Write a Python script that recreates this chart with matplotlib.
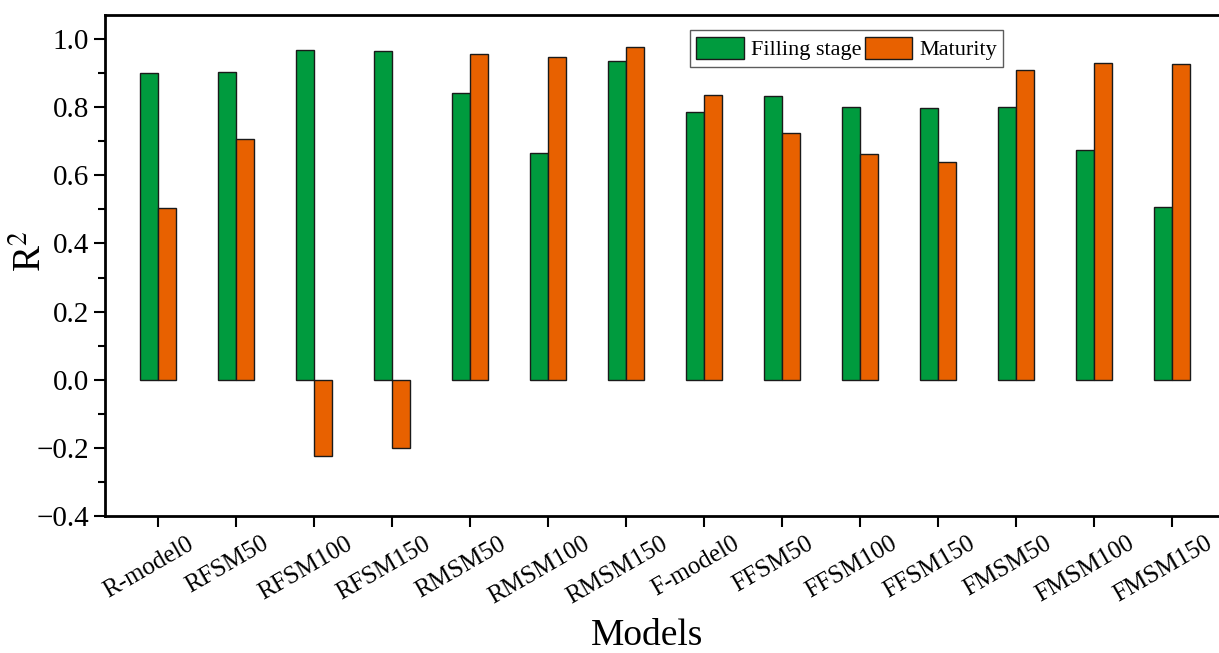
import matplotlib
matplotlib.use("Agg")
import matplotlib.pyplot as plt
import matplotlib.transforms as mtransforms
import numpy as np
from matplotlib.ticker import MultipleLocator

# R^2 of each model at two growth stages
models = ["R-model0", "RFSM50", "RFSM100", "RFSM150", "RMSM50", "RMSM100", "RMSM150",
          "F-model0", "FFSM50", "FFSM100", "FFSM150", "FMSM50", "FMSM100", "FMSM150"]
filling_stage = [0.899, 0.903, 0.968, 0.965, 0.841, 0.664, 0.935,
                 0.785, 0.834, 0.800, 0.798, 0.799, 0.673, 0.507]
maturity = [0.504, 0.706, -0.225, -0.201, 0.955, 0.948, 0.976,
            0.836, 0.723, 0.662, 0.640, 0.909, 0.931, 0.927]

GREEN = "#009b3e"
ORANGE = "#e86100"

plt.rcParams["font.family"] = ["Liberation Serif", "DejaVu Serif"]
plt.rcParams["mathtext.fontset"] = "stix"

fig = plt.figure(figsize=(12.19, 6.53), dpi=100)
ax = fig.add_axes([0.0861, 0.2098, 0.919, 0.767])

x = np.arange(len(models))
w = 0.23
ax.bar(x - w / 2, filling_stage, w, color=GREEN, edgecolor="#1a1a1a", linewidth=1.0,
       label="Filling stage")
ax.bar(x + w / 2, maturity, w, color=ORANGE, edgecolor="#1a1a1a", linewidth=1.0,
       label="Maturity")

ax.set_xlim(-0.68, 13.68)
ax.set_ylim(-0.4, 1.07)

# axis styling: left, bottom and top spines only
ax.spines["right"].set_visible(False)
for s in ("left", "bottom", "top"):
    ax.spines[s].set_linewidth(2.0)

yt = np.arange(-0.4, 1.01, 0.2)
ax.set_yticks(yt)
ax.set_yticklabels([f"{v:.1f}".replace("-", "\u2212") for v in yt])
ax.yaxis.set_minor_locator(MultipleLocator(0.1))
ax.tick_params(axis="y", which="major", length=8, width=1.5, labelsize=21, direction="out")
ax.tick_params(axis="y", which="minor", length=5, width=1.5, direction="out")
ax.tick_params(axis="x", which="major", length=8, width=1.5, direction="out", pad=4)
ax.tick_params(top=False, right=False)

ax.set_xticks(x)
ax.set_xticklabels(models, rotation=30, ha="center", fontsize=18)
# nudge the slanted category labels a little to the left
shift = mtransforms.ScaledTranslation(-9 / 100, 0, fig.dpi_scale_trans)
for lbl in ax.get_xticklabels():
    lbl.set_transform(lbl.get_transform() + shift)

ax.set_ylabel("R$^2$", fontsize=28)
ax.yaxis.label.set_va("center")
ax.yaxis.set_label_coords(-0.066, 0.529)

ax.set_xlabel("Models", fontsize=27)
ax.xaxis.label.set_va("center")
ax.xaxis.set_label_coords(0.484, -0.24)

leg = ax.legend(loc="upper center", bbox_to_anchor=(0.662, 0.970), ncol=2, fontsize=16,
                frameon=True, fancybox=False, edgecolor="#333333",
                handlelength=2.15, handleheight=1.15, handletextpad=0.3,
                columnspacing=0.15, borderpad=0.3, borderaxespad=0)
leg.get_frame().set_linewidth(1.0)

fig.savefig("out.png", dpi=100)
